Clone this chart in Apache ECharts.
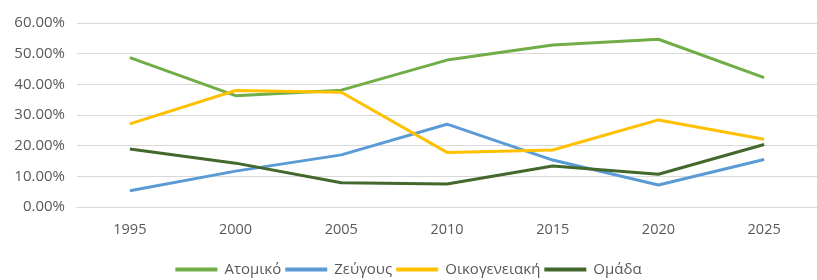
<!DOCTYPE html>
<html>
<head>
<meta charset="utf-8">
<script src="https://cdn.jsdelivr.net/npm/echarts@6/dist/echarts.min.js"></script>
<style>
  html, body { margin: 0; padding: 0; background: #fff; }
  #chart { width: 817px; height: 280px; }
</style>
</head>
<body>
<div id="chart"></div>
<script>
// years on the x axis
const years = ['1995', '2000', '2005', '2010', '2015', '2020', '2025'];

// shares in percent
const atomiko = [48.7, 36.3, 38.1, 47.9, 52.8, 54.7, 42.2];
const zeygous = [5.3, 11.7, 17.0, 27.0, 15.3, 7.2, 15.5];
const oikogeneiaki = [27.1, 38.0, 37.4, 17.8, 18.6, 28.4, 22.1];
const omada = [18.9, 14.3, 7.9, 7.5, 13.4, 10.7, 20.4];

const seriesNames = ['Ατομικό', 'Ζεύγους', 'Οικογενειακή', 'Ομάδα'];
const seriesColors = ['#70AD47', '#5B9BD5', '#FFC000', '#43682B'];
const seriesData = [atomiko, zeygous, oikogeneiaki, omada];

const chart = echarts.init(document.getElementById('chart'));

const option = {
  animation: false,
  textStyle: { fontFamily: 'Open Sans' },
  grid: { left: 77, right: 0, top: 23, bottom: 73 },
  legend: {
    bottom: -2,
    left: 'center',
    icon: 'rect',
    itemWidth: 42,
    itemHeight: 4,
    itemGap: 4,
    textStyle: { color: '#595959', fontSize: 15, padding: [0, 0, 0, 2] },
    data: seriesNames
  },
  xAxis: {
    type: 'category',
    data: years,
    boundaryGap: true,
    axisLine: { show: true, lineStyle: { color: '#D9D9D9' } },
    axisTick: { show: false },
    axisLabel: { color: '#595959', fontSize: 14.5, margin: 15 }
  },
  yAxis: {
    type: 'value',
    min: 0,
    max: 60,
    interval: 10,
    axisLine: { show: false },
    axisTick: { show: false },
    splitLine: { lineStyle: { color: '#D9D9D9', width: 1 } },
    axisLabel: {
      color: '#595959',
      fontSize: 15,
      margin: 12,
      formatter: v => v.toFixed(2) + '%'
    }
  },
  series: seriesNames.map((name, i) => ({
    name: name,
    type: 'line',
    data: seriesData[i],
    showSymbol: false,
    symbol: 'none',
    lineStyle: { color: seriesColors[i], width: 3 },
    itemStyle: { color: seriesColors[i] }
  }))
};

chart.setOption(option);
</script>
</body>
</html>
